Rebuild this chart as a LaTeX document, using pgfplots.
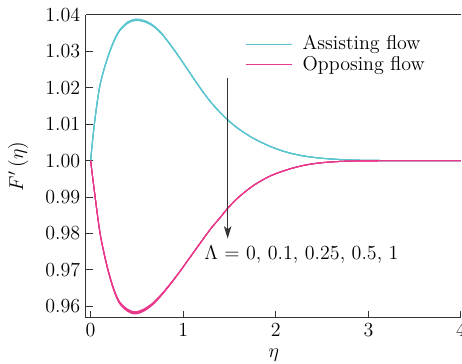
\documentclass[border=0pt]{standalone}
\usepackage{pgfplots}
\usepackage{pgfplotstable}
\pgfplotsset{compat=1.18}
\usetikzlibrary{arrows.meta}
\definecolor{cyanc}{HTML}{5CC6D0}
\definecolor{magc}{HTML}{E8388C}
\definecolor{axc}{HTML}{333333}

\pgfplotstableread{
eta   l0       l1       l2       l3       l4
0     1.00000  1.00000  1.00000  1.00000  1.00000
0.04  1.01000  1.00999  1.00998  1.00997  1.00996
0.095 1.02000  1.01997  1.01994  1.01991  1.01988
0.16  1.02650  1.02644  1.02638  1.02632  1.02626
0.235 1.03200  1.03192  1.03184  1.03176  1.03168
0.307 1.03570  1.03561  1.03552  1.03543  1.03534
0.40  1.03810  1.03800  1.03790  1.03780  1.03770
0.49  1.03890  1.03880  1.03870  1.03860  1.03850
0.58  1.03850  1.03840  1.03830  1.03820  1.03810
0.67  1.03730  1.03722  1.03714  1.03706  1.03698
0.76  1.03520  1.03514  1.03508  1.03502  1.03496
0.85  1.03230  1.03226  1.03222  1.03218  1.03214
0.94  1.02910  1.02908  1.02906  1.02904  1.02902
1.03  1.02570  1.02570  1.02570  1.02570  1.02570
1.12  1.02230  1.02230  1.02230  1.02230  1.02230
1.21  1.01900  1.01900  1.01900  1.01900  1.01900
1.30  1.01600  1.01600  1.01600  1.01600  1.01600
1.40  1.01320  1.01320  1.01320  1.01320  1.01320
1.48  1.01120  1.01120  1.01120  1.01120  1.01120
1.60  1.00870  1.00870  1.00870  1.00870  1.00870
1.76  1.00610  1.00610  1.00610  1.00610  1.00610
1.94  1.00390  1.00390  1.00390  1.00390  1.00390
2.12  1.00230  1.00230  1.00230  1.00230  1.00230
2.30  1.00130  1.00130  1.00130  1.00130  1.00130
2.48  1.00070  1.00070  1.00070  1.00070  1.00070
2.70  1.00030  1.00030  1.00030  1.00030  1.00030
2.90  1.00012  1.00012  1.00012  1.00012  1.00012
3.20  1.00003  1.00003  1.00003  1.00003  1.00003
3.60  1.00000  1.00000  1.00000  1.00000  1.00000
4.00  1.00000  1.00000  1.00000  1.00000  1.00000
}\tabC

\pgfplotstableread{
eta   l0       l1       l2       l3       l4
0     1.00000  1.00000  1.00000  1.00000  1.00000
0.049 0.99000  0.98998  0.98997  0.98995  0.98994
0.103 0.98000  0.97995  0.97991  0.97986  0.97982
0.168 0.97220  0.97211  0.97202  0.97193  0.97184
0.235 0.96600  0.96588  0.96576  0.96564  0.96552
0.307 0.96150  0.96137  0.96123  0.96110  0.96096
0.40  0.95920  0.95905  0.95890  0.95875  0.95860
0.48  0.95850  0.95835  0.95820  0.95805  0.95790
0.57  0.95920  0.95905  0.95890  0.95875  0.95860
0.67  0.96090  0.96078  0.96066  0.96054  0.96042
0.76  0.96320  0.96311  0.96302  0.96293  0.96284
0.85  0.96590  0.96584  0.96578  0.96572  0.96566
0.94  0.96880  0.96877  0.96874  0.96871  0.96868
1.03  0.97190  0.97190  0.97190  0.97190  0.97190
1.12  0.97510  0.97510  0.97510  0.97510  0.97510
1.21  0.97830  0.97830  0.97830  0.97830  0.97830
1.30  0.98140  0.98140  0.98140  0.98140  0.98140
1.40  0.98440  0.98440  0.98440  0.98440  0.98440
1.48  0.98690  0.98690  0.98690  0.98690  0.98690
1.60  0.99000  0.99000  0.99000  0.99000  0.99000
1.76  0.99320  0.99320  0.99320  0.99320  0.99320
1.94  0.99580  0.99580  0.99580  0.99580  0.99580
2.12  0.99750  0.99750  0.99750  0.99750  0.99750
2.30  0.99870  0.99870  0.99870  0.99870  0.99870
2.48  0.99940  0.99940  0.99940  0.99940  0.99940
2.70  0.99980  0.99980  0.99980  0.99980  0.99980
2.90  0.99993  0.99993  0.99993  0.99993  0.99993
3.20  0.99999  0.99999  0.99999  0.99999  0.99999
3.60  1.00000  1.00000  1.00000  1.00000  1.00000
4.00  1.00000  1.00000  1.00000  1.00000  1.00000
}\tabM

\begin{document}
\begin{tikzpicture}[font=\fontsize{12}{14}\selectfont]
\begin{axis}[
  scale only axis,
  width=225pt, height=181.8pt,
  xmin=-0.05, xmax=4,
  ymin=0.9568, ymax=1.04,
  axis lines=left,
  axis line style={-, draw=axc, line width=0.6pt},
  every tick/.style={draw=axc, line width=0.6pt},
  tick align=inside,
  major tick length=4pt,
  tick label style={font=\fontsize{12}{14}\selectfont},
  label style={font=\fontsize{12}{14}\selectfont},
  xtick={0,1,2,3,4},
  ytick={0.96,0.97,0.98,0.99,1.00,1.01,1.02,1.03,1.04},
  scaled y ticks=false,
  yticklabel style={/pgf/number format/fixed, /pgf/number format/fixed zerofill, /pgf/number format/precision=2},
  xlabel={$\eta$},
  ylabel={$F'\,(\eta)$},
  xlabel style={at={(rel axis cs:0.501,-0.122)}, anchor=center},
  ylabel style={at={(rel axis cs:-0.181,0.5)}, anchor=center},
  clip=false,
  legend cell align=left,
  legend style={at={(rel axis cs:0.41,0.955)}, anchor=north west, draw=none, fill=none,
    row sep=-1.5pt, column sep=4pt, font=\fontsize{12}{14}\selectfont},
  legend image code/.code={\draw[#1] (0pt,0pt) -- (28pt,0pt);},
]
\addplot[cyanc, line width=0.6pt, smooth] table[x=eta,y=l0] {\tabC};
\addlegendentry{Assisting flow}
\addplot[magc, line width=0.6pt, smooth] table[x=eta,y=l0] {\tabM};
\addlegendentry{Opposing flow}
\addplot[cyanc, line width=0.6pt, smooth, forget plot] table[x=eta,y=l1] {\tabC};
\addplot[cyanc, line width=0.6pt, smooth, forget plot] table[x=eta,y=l2] {\tabC};
\addplot[cyanc, line width=0.6pt, smooth, forget plot] table[x=eta,y=l3] {\tabC};
\addplot[cyanc, line width=0.6pt, smooth, forget plot] table[x=eta,y=l4] {\tabC};
\addplot[magc, line width=0.6pt, smooth, forget plot] table[x=eta,y=l1] {\tabM};
\addplot[magc, line width=0.6pt, smooth, forget plot] table[x=eta,y=l2] {\tabM};
\addplot[magc, line width=0.6pt, smooth, forget plot] table[x=eta,y=l3] {\tabM};
\addplot[magc, line width=0.6pt, smooth, forget plot] table[x=eta,y=l4] {\tabM};
\draw[axc, line width=0.6pt] (rel axis cs:0,1) -- (rel axis cs:1,1);
\draw[axc, line width=0.6pt, -{Stealth[length=7.5pt,width=4.5pt,inset=2pt]}] (axis cs:1.48,1.0228) -- (axis cs:1.48,0.9786);
\node[anchor=west, inner sep=0pt] at (axis cs:1.224,0.9742) {$\Lambda$ = 0, 0.1, 0.25, 0.5, 1};
\coordinate (bbsw) at (rel axis cs:-0.2293,-0.15182);
\coordinate (bbne) at (rel axis cs:1.00267,1.0495);
\end{axis}
\pgfresetboundingbox
\useasboundingbox (bbsw) rectangle (bbne);
\end{tikzpicture}
\end{document}
